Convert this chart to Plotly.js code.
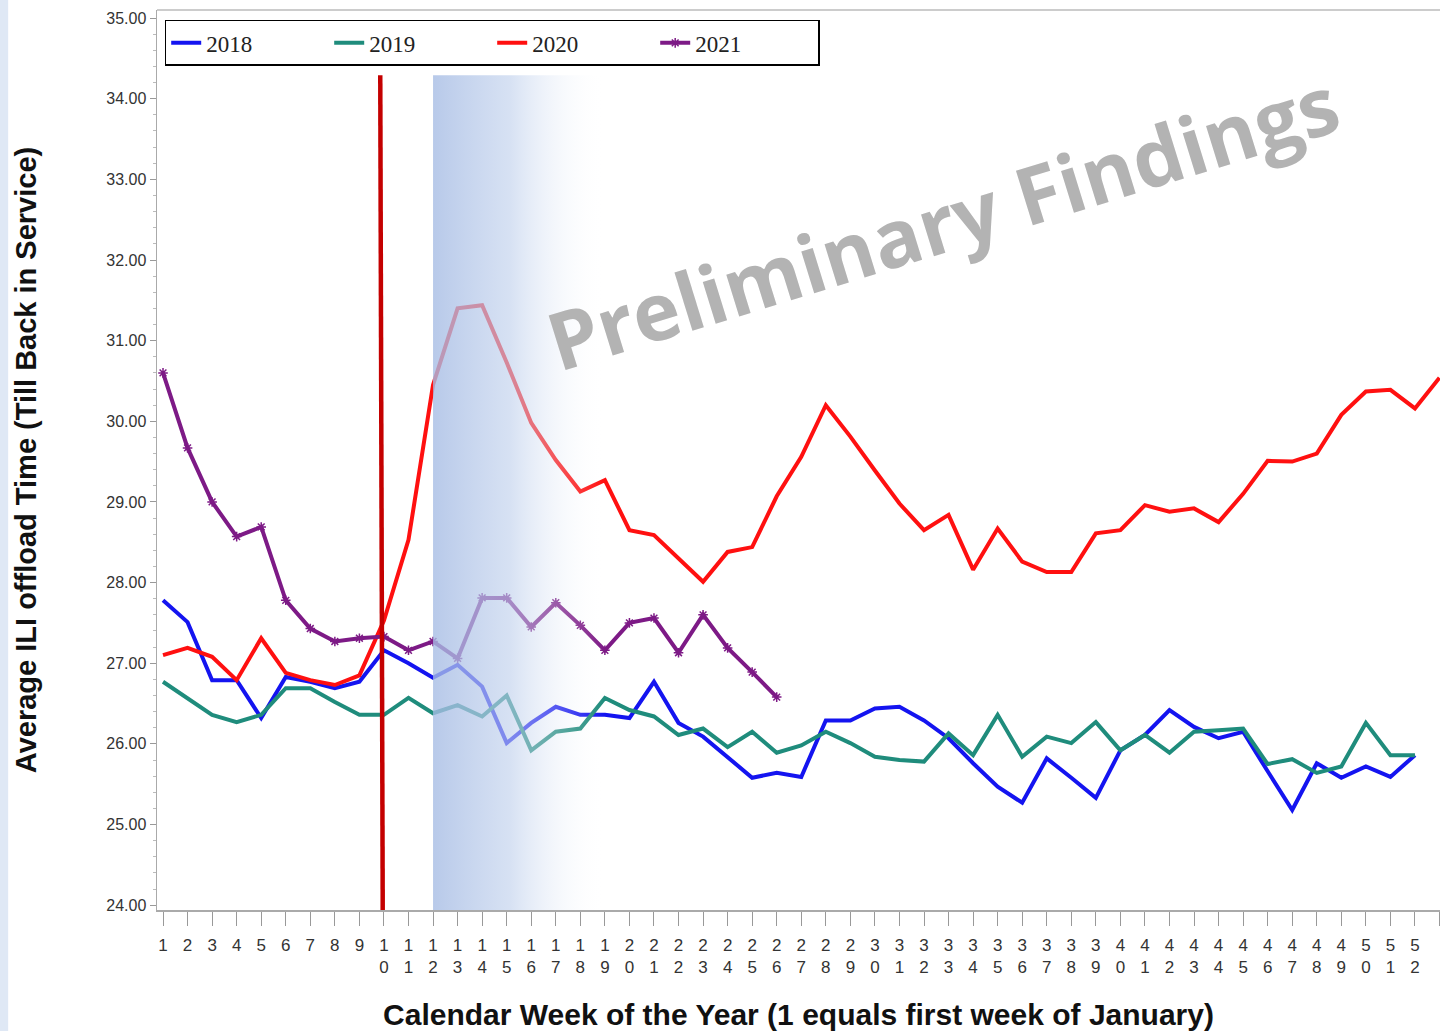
<!DOCTYPE html>
<html>
<head>
<meta charset="utf-8">
<script src="https://cdn.plot.ly/plotly-3.0.1.min.js"></script>
<style>
  html, body { margin: 0; padding: 0; background: #ffffff; }
  #chart { width: 1440px; height: 1031px; }
</style>
</head>
<body>
<div id="chart"></div>
<script>
// ---- Data ----
const weeks = Array.from({length: 53}, (_, i) => i + 1);

const y2018 = [27.78, 27.51, 26.79, 26.79, 26.32, 26.83, 26.77, 26.69, 26.77, 27.16,
               27.00, 26.82, 26.98, 26.71, 26.01, 26.26, 26.46, 26.36, 26.36, 26.32,
               26.77, 26.26, 26.09, 25.84, 25.58, 25.64, 25.59, 26.29, 26.29, 26.44,
               26.46, 26.29, 26.07, 25.76, 25.47, 25.27, 25.82, 25.58, 25.33, 25.92,
               26.11, 26.42, 26.21, 26.07, 26.15, 25.66, 25.18, 25.76, 25.58, 25.72,
               25.59, 25.86];

const y2019 = [26.77, 26.57, 26.36, 26.27, 26.36, 26.69, 26.69, 26.52, 26.36, 26.36,
               26.57, 26.38, 26.48, 26.34, 26.60, 25.92, 26.15, 26.19, 26.57, 26.42,
               26.34, 26.11, 26.19, 25.96, 26.15, 25.89, 25.98, 26.15, 26.01, 25.84,
               25.80, 25.78, 26.13, 25.86, 26.36, 25.84, 26.09, 26.01, 26.27, 25.92,
               26.11, 25.89, 26.15, 26.17, 26.19, 25.75, 25.81, 25.64, 25.72, 26.26,
               25.86, 25.86];

const y2020 = [27.10, 27.19, 27.08, 26.79, 27.31, 26.88, 26.79, 26.73, 26.85, 27.53,
               28.53, 30.45, 31.40, 31.44, 30.73, 29.98, 29.52, 29.13, 29.27, 28.65,
               28.59, 28.30, 28.01, 28.38, 28.44, 29.07, 29.56, 30.20, 29.81, 29.39,
               28.98, 28.65, 28.84, 28.16, 28.67, 28.26, 28.13, 28.13, 28.61, 28.65,
               28.96, 28.88, 28.92, 28.75, 29.10, 29.51, 29.50, 29.60, 30.08, 30.37,
               30.39, 30.16, 30.54];

const y2021 = [30.60, 29.67, 29.00, 28.57, 28.69, 27.78, 27.43, 27.27, 27.31, 27.33,
               27.16, 27.27, 27.06, 27.81, 27.81, 27.45, 27.75, 27.47, 27.16, 27.50,
               27.56, 27.13, 27.60, 27.19, 26.89, 26.58];

const seriesNames = ['2018', '2019', '2020', '2021'];
const yTickVals = [24, 25, 26, 27, 28, 29, 30, 31, 32, 33, 34, 35];
const yTickText = yTickVals.map(v => v.toFixed(2));
const xTickText = weeks.map(w => String(w).split('').join('<br>'));

// annotation markers (week of the vertical line, shaded band)
const markerWeekTop = 9.85, markerWeekBottom = 9.95;
const bandStart = 12, bandEnd = 19;
const bandTop = 34.29;

const yMin = 23.94, yMax = 35.1;

// ---- Traces ----
const traces = [
  {x: weeks.slice(0, y2018.length), y: y2018, name: seriesNames[0], type: 'scatter', mode: 'lines',
   line: {color: '#1414f0', width: 4}},
  {x: weeks.slice(0, y2019.length), y: y2019, name: seriesNames[1], type: 'scatter', mode: 'lines',
   line: {color: '#1f8c7c', width: 4}},
  {x: weeks.slice(0, y2020.length), y: y2020, name: seriesNames[2], type: 'scatter', mode: 'lines',
   line: {color: '#ff1010', width: 4}},
  {x: weeks.slice(0, y2021.length), y: y2021, name: seriesNames[3], type: 'scatter', mode: 'lines+markers',
   line: {color: '#7d1a86', width: 4},
   marker: {symbol: 'asterisk-open', size: 8, color: '#7d1a86', line: {color: '#7d1a86', width: 1.5}}},
  // fading shaded band drawn on top of the lines
  {x: [bandStart, bandEnd, bandEnd, bandStart, bandStart],
   y: [yMin, yMin, bandTop, bandTop, yMin],
   type: 'scatter', mode: 'none', fill: 'toself', showlegend: false, hoverinfo: 'skip',
   fillgradient: {type: 'horizontal',
     colorscale: [[0, 'rgba(166,188,228,0.8)'], [0.45, 'rgba(190,207,236,0.62)'], [1, 'rgba(255,255,255,0)']]}}
];

const layout = {
  width: 1440, height: 1031,
  margin: {l: 157, r: 0, t: 10, b: 121},
  paper_bgcolor: '#ffffff', plot_bgcolor: '#ffffff',
  font: {family: 'Liberation Sans, Arial, sans-serif', color: '#222'},
  showlegend: true,
  legend: {
    orientation: 'h', x: 0.006, y: 0.989, xanchor: 'left', yanchor: 'top',
    bordercolor: '#000', borderwidth: 1.5, bgcolor: '#ffffff',
    font: {family: 'Liberation Serif, Times New Roman, serif', size: 23, color: '#222'},
    entrywidth: 118, entrywidthmode: 'pixels'
  },
  xaxis: {
    range: [0.755, 53.02],
    tickmode: 'array', tickvals: weeks, ticktext: xTickText,
    ticks: 'outside', ticklen: 14, tickcolor: '#999', tickwidth: 1,
    ticklabelstandoff: 5,
    tickangle: 0,
    showline: true, linecolor: '#aaa', linewidth: 1.5,
    showgrid: false, zeroline: false,
    tickfont: {family: 'Liberation Sans, Arial, sans-serif', size: 17, color: '#333'},
    title: {text: 'Calendar Week of the Year (1 equals first week of January)',
            font: {family: 'Liberation Sans, Arial, sans-serif', size: 30, color: '#111', weight: 'bold'},
            standoff: 28}
  },
  yaxis: {
    range: [yMin, yMax],
    tickmode: 'array', tickvals: yTickVals, ticktext: yTickText,
    ticks: 'outside', ticklen: 6, tickcolor: '#999',
    minor: {dtick: 0.2, tick0: 24, ticks: 'outside', ticklen: 3, tickcolor: '#bbb'},
    showline: true, linecolor: '#aaa', linewidth: 1.5,
    showgrid: false, zeroline: false,
    tickfont: {family: 'Liberation Sans Narrow, Liberation Sans, Arial, sans-serif', size: 16, color: '#333'},
    title: {text: 'Average ILI offload Time (Till Back in Service)',
            font: {family: 'Liberation Sans, Arial, sans-serif', size: 29, color: '#111', weight: 'bold'},
            standoff: 61}
  },
  shapes: [
    // top frame line
    {type: 'line', xref: 'paper', yref: 'paper', x0: 0, x1: 1, y0: 1, y1: 1,
     line: {color: '#bbb', width: 1.5}},
    // vertical marker line
    {type: 'line', xref: 'x', yref: 'y', x0: markerWeekTop, x1: markerWeekBottom, y0: bandTop, y1: yMin,
     line: {color: '#c40000', width: 4.5}, layer: 'above'},
    // faint page strip at left
    {type: 'rect', xref: 'paper', yref: 'paper', x0: -0.1224, x1: -0.116, y0: -0.14, y1: 1.012,
     fillcolor: 'rgba(215,226,243,0.8)', line: {width: 0}}
  ],
  annotations: [
    {text: '<b>Preliminary Findings</b>', xref: 'paper', yref: 'paper', x: 0.612, y: 0.766,
     xanchor: 'center', yanchor: 'middle',
     showarrow: false, textangle: -17.2,
     font: {family: 'Open Sans, Noto Sans, sans-serif', size: 80, color: '#b3b3b3'}}
  ]
};

Plotly.newPlot('chart', traces, layout, {displayModeBar: false, staticPlot: true});
</script>
</body>
</html>
